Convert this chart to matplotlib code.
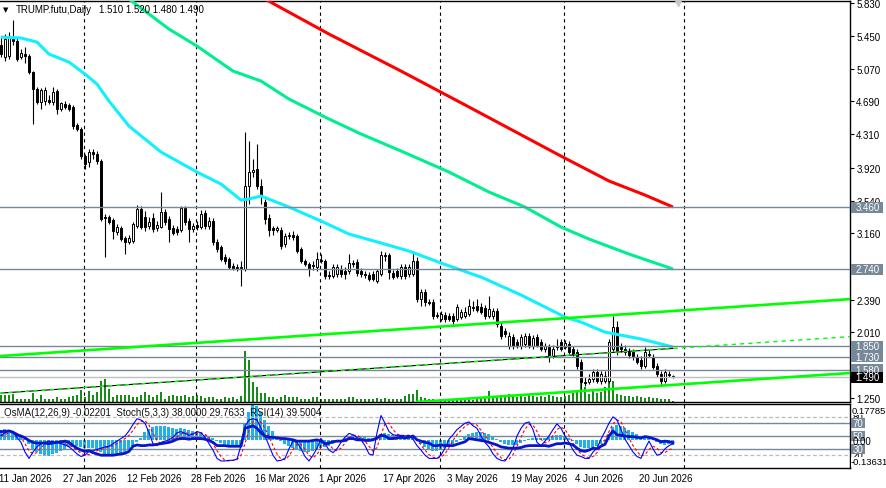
import datetime as dt
import matplotlib
matplotlib.use("Agg")
import matplotlib.pyplot as plt
import matplotlib.transforms as mtransforms
from matplotlib.patches import Rectangle

plt.rcParams['font.family'] = ['Liberation Sans', 'DejaVu Sans']

# ---------------- data ----------------
symbol = "TRUMP.futu,Daily"
last_ohlc = "1.510 1.520 1.480 1.490"
first_date = "2026-01-11"

opens = [5.343, 5.203, 5.215, 5.435, 5.389, 5.203, 5.238, 5.215, 5.030, 4.832,
         4.682, 4.693, 4.705, 4.682, 4.809, 4.600, 4.658, 4.647, 4.624, 4.415,
         4.369, 4.055, 3.986, 4.102, 4.079, 3.998, 3.348, 3.348, 3.313, 3.174,
         3.220, 3.105, 3.058, 3.070, 3.244, 3.441, 3.348, 3.244, 3.337, 3.220,
         3.232, 3.406, 3.325, 3.220, 3.209, 3.197, 3.453, 3.302, 3.209, 3.255,
         3.232, 3.394, 3.244, 3.302, 3.058, 3.000, 2.884, 2.861, 2.780, 2.768,
         2.757, 2.745, 3.707, 3.870, 3.905, 3.707, 3.522, 3.337, 3.220, 3.197,
         3.197, 3.035, 3.128, 3.139, 3.128, 2.977, 2.838, 2.803, 2.780, 2.768,
         2.849, 2.838, 2.676, 2.664, 2.687, 2.745, 2.722, 2.722, 2.815, 2.826,
         2.722, 2.687, 2.676, 2.687, 2.606, 2.687, 2.907, 2.907, 2.699, 2.722,
         2.664, 2.768, 2.687, 2.687, 2.838, 2.397, 2.478, 2.362, 2.362, 2.212,
         2.165, 2.212, 2.200, 2.200, 2.165, 2.188, 2.200, 2.223, 2.304, 2.316,
         2.304, 2.293, 2.200, 2.200, 2.258, 2.084, 2.026, 1.852, 1.957, 1.899,
         1.852, 1.876, 1.968, 1.852, 1.957, 1.899, 1.818, 1.841, 1.736, 1.852,
         1.899, 1.841, 1.876, 1.818, 1.783, 1.667, 1.435, 1.435, 1.470, 1.551,
         1.446, 1.446, 1.446, 1.818, 2.072, 1.852, 1.818, 1.783, 1.783, 1.725,
         1.690, 1.620, 1.760, 1.725, 1.620, 1.528, 1.446, 1.528, 1.510]
closes = [5.238, 5.412, 5.435, 5.389, 5.180, 5.250, 5.215, 5.030, 4.832, 4.682,
          4.821, 4.821, 4.682, 4.798, 4.600, 4.670, 4.624, 4.600, 4.403, 4.369,
          4.055, 3.963, 4.102, 4.079, 3.998, 3.325, 3.337, 3.290, 3.186, 3.232,
          3.093, 3.058, 3.105, 3.267, 3.441, 3.232, 3.232, 3.290, 3.209, 3.255,
          3.406, 3.290, 3.209, 3.163, 3.174, 3.453, 3.290, 3.209, 3.244, 3.232,
          3.383, 3.244, 3.302, 3.058, 2.977, 2.861, 2.838, 2.768, 2.757, 2.745,
          2.768, 3.707, 3.870, 3.893, 3.707, 3.592, 3.325, 3.197, 3.197, 3.220,
          3.012, 3.128, 3.139, 3.116, 2.954, 2.838, 2.803, 2.745, 2.791, 2.861,
          2.838, 2.664, 2.664, 2.768, 2.768, 2.687, 2.687, 2.815, 2.803, 2.699,
          2.687, 2.676, 2.629, 2.629, 2.722, 2.907, 2.896, 2.710, 2.652, 2.664,
          2.768, 2.664, 2.768, 2.838, 2.397, 2.478, 2.362, 2.350, 2.200, 2.205,
          2.223, 2.165, 2.165, 2.142, 2.304, 2.246, 2.246, 2.316, 2.296, 2.270,
          2.246, 2.200, 2.281, 2.258, 2.107, 1.968, 1.991, 1.968, 1.852, 1.864,
          1.957, 1.968, 1.864, 1.945, 1.864, 1.818, 1.852, 1.736, 1.818, 1.841,
          1.818, 1.887, 1.783, 1.760, 1.620, 1.435, 1.425, 1.470, 1.551, 1.446,
          1.528, 1.505, 1.899, 2.072, 1.783, 1.818, 1.783, 1.748, 1.725, 1.667,
          1.620, 1.783, 1.748, 1.609, 1.528, 1.446, 1.551, 1.520, 1.490]
highs = [5.435, 5.470, 5.493, 5.632, 5.435, 5.296, 5.319, 5.238, 5.041, 4.856,
         4.844, 4.856, 4.763, 4.856, 4.832, 4.682, 4.693, 4.670, 4.647, 4.438,
         4.392, 4.079, 4.137, 4.137, 4.114, 4.021, 3.383, 3.371, 3.337, 3.267,
         3.244, 3.128, 3.139, 3.290, 3.487, 3.476, 3.418, 3.348, 3.394, 3.302,
         3.638, 3.441, 3.360, 3.255, 3.244, 3.476, 3.476, 3.337, 3.279, 3.302,
         3.429, 3.429, 3.348, 3.337, 3.093, 3.023, 2.919, 2.884, 2.815, 2.803,
         2.838, 4.334, 4.230, 4.021, 4.195, 3.789, 3.557, 3.383, 3.244, 3.244,
         3.232, 3.163, 3.174, 3.186, 3.151, 3.000, 2.861, 2.826, 2.838, 2.942,
         2.919, 2.861, 2.722, 2.803, 2.803, 2.791, 2.768, 2.919, 2.849, 2.861,
         2.757, 2.722, 2.710, 2.722, 2.745, 2.954, 2.942, 2.930, 2.734, 2.757,
         2.803, 2.803, 2.803, 2.942, 2.884, 2.513, 2.513, 2.397, 2.397, 2.246,
         2.258, 2.246, 2.235, 2.235, 2.339, 2.281, 2.304, 2.397, 2.374, 2.397,
         2.351, 2.328, 2.432, 2.293, 2.293, 2.130, 2.061, 2.014, 1.991, 1.934,
         1.991, 2.003, 2.003, 1.980, 1.991, 1.934, 1.887, 1.876, 1.864, 1.934,
         1.934, 1.922, 1.910, 1.852, 1.818, 1.702, 1.493, 1.528, 1.586, 1.586,
         1.563, 1.563, 1.934, 2.200, 2.142, 1.887, 1.864, 1.829, 1.818, 1.760,
         1.736, 1.841, 1.818, 1.760, 1.655, 1.563, 1.586, 1.563, 1.520]
lows = [5.203, 5.157, 5.180, 5.343, 5.157, 5.180, 5.134, 5.006, 4.427, 4.658,
        4.600, 4.647, 4.658, 4.647, 4.543, 4.577, 4.600, 4.577, 4.369, 4.345,
        4.021, 3.905, 3.928, 4.021, 3.963, 3.302, 2.884, 3.267, 3.093, 3.139,
        3.070, 2.919, 3.035, 3.047, 3.220, 3.209, 3.186, 3.209, 3.174, 3.186,
        3.220, 3.255, 3.058, 3.139, 3.139, 3.174, 3.255, 3.058, 3.174, 3.197,
        3.209, 3.209, 3.209, 3.023, 2.942, 2.838, 2.803, 2.745, 2.734, 2.722,
        2.548, 2.722, 3.499, 3.812, 3.673, 3.499, 3.267, 3.128, 3.139, 3.174,
        2.977, 3.000, 3.093, 3.082, 2.930, 2.815, 2.780, 2.664, 2.734, 2.722,
        2.815, 2.629, 2.629, 2.641, 2.652, 2.652, 2.629, 2.687, 2.768, 2.664,
        2.652, 2.641, 2.606, 2.606, 2.583, 2.664, 2.838, 2.629, 2.629, 2.641,
        2.629, 2.629, 2.652, 2.664, 2.362, 2.316, 2.316, 2.328, 2.165, 2.177,
        2.142, 2.130, 2.142, 2.107, 2.142, 2.165, 2.177, 2.200, 2.258, 2.246,
        2.223, 2.165, 2.177, 2.165, 2.072, 1.934, 1.957, 1.818, 1.818, 1.829,
        1.818, 1.841, 1.829, 1.818, 1.841, 1.794, 1.783, 1.667, 1.713, 1.806,
        1.794, 1.818, 1.760, 1.736, 1.586, 1.330, 1.388, 1.412, 1.435, 1.423,
        1.412, 1.423, 1.423, 1.794, 1.748, 1.783, 1.748, 1.713, 1.690, 1.644,
        1.586, 1.597, 1.725, 1.586, 1.493, 1.388, 1.423, 1.493, 1.480]
volumes = [7, 7, 7, 8, 3, 3, 3, 3, 9, 3,
           7, 3, 3, 3, 5, 3, 3, 5, 6, 7,
           12, 5, 11, 7, 10, 21, 23, 13, 5, 7,
           7, 7, 7, 5, 5, 7, 10, 7, 5, 7,
           10, 3, 6, 7, 6, 6, 7, 5, 6, 7,
           6, 4, 5, 5, 3, 3, 5, 4, 5, 3,
           6, 51, 42, 20, 15, 9, 9, 5, 5, 3,
           5, 7, 5, 5, 5, 3, 3, 3, 5, 5,
           3, 3, 3, 3, 3, 3, 3, 5, 5, 3,
           3, 3, 3, 3, 4, 3, 4, 3, 3, 3,
           3, 6, 8, 8, 12, 5, 4, 3, 3, 2,
           2, 2, 2, 2, 3, 2, 2, 3, 2, 3,
           3, 4, 11, 5, 5, 7, 6, 8, 6, 5,
           6, 5, 7, 6, 5, 6, 5, 7, 6, 5,
           5, 6, 7, 9, 12, 20, 15, 8, 12, 9,
           10, 15, 27, 21, 8, 7, 6, 6, 5, 6,
           5, 4, 5, 4, 4, 3, 3, 3, 1]

# moving averages read at sample bars
ma_fast_bars = [0, 5, 9, 12, 17, 21, 24, 27, 32, 40, 49, 55, 60, 62, 65, 72, 80, 87,
                95, 102, 110, 120, 130, 135, 141, 145, 151, 160, 168]
ma_fast_vals = [5.435, 5.424, 5.377, 5.238, 5.145, 5.006, 4.890, 4.693, 4.403, 4.102,
                3.870, 3.731, 3.545, 3.557, 3.592, 3.464, 3.302, 3.151, 3.047, 2.954,
                2.815, 2.652, 2.444, 2.328, 2.188, 2.130, 2.014, 1.934, 1.841]
ma_mid_bars = [26, 32, 37, 42, 49, 58, 65, 72, 82, 90, 100, 112, 122, 131, 140, 147, 157, 168]
ma_mid_vals = [6.050, 5.876, 5.702, 5.528, 5.331, 5.041, 4.925, 4.716, 4.485, 4.311,
               4.114, 3.870, 3.638, 3.464, 3.232, 3.093, 2.919, 2.745]
ma_slow_bars = [60, 66, 82, 100, 117, 132, 140, 152, 161, 168]
ma_slow_vals = [6.040, 5.876, 5.470, 5.041, 4.624, 4.253, 4.055, 3.766, 3.603, 3.464]

# horizontal levels and trend lines (bar, price anchors)
levels = [3.460, 2.740, 1.850, 1.730, 1.580]
bid_level = 1.490
channel_top = [(0, 1.737), (168, 2.259)]
channel_bottom = [(110, 1.222), (168, 1.402)]
mid_line = [(0, 1.307), (168, 1.825)]

price_ticks = [5.830, 5.450, 5.070, 4.690, 4.310, 3.920, 3.540, 3.160,
               2.390, 2.010, 1.250]
xtick_labels = ['11 Jan 2026', '27 Jan 2026', '12 Feb 2026', '28 Feb 2026',
                '16 Mar 2026', '1 Apr 2026', '17 Apr 2026', '3 May 2026',
                '19 May 2026', '4 Jun 2026', '20 Jun 2026']
separator_dates = ['2026-02-01', '2026-03-01', '2026-04-01', '2026-05-01',
                   '2026-06-01', '2026-07-01']

osma = [0.050, 0.055, 0.050, 0.045, 0.035, 0.020, 0.005, -0.020, -0.045, -0.060,
        -0.070, -0.075, -0.075, -0.070, -0.065, -0.055, -0.045, -0.035, -0.030, -0.030,
        -0.035, -0.040, -0.040, -0.040, -0.045, -0.060, -0.070, -0.070, -0.070, -0.068,
        -0.065, -0.060, -0.050, -0.030, -0.010, 0.010, 0.040, 0.055, 0.065, 0.070,
        0.072, 0.070, 0.065, 0.060, 0.055, 0.060, 0.055, 0.050, 0.045, 0.042,
        0.035, 0.028, 0.020, 0.010, -0.005, -0.015, -0.020, -0.025, -0.030, -0.030,
        -0.030, 0.080, 0.140, 0.175, 0.170, 0.140, 0.100, 0.070, 0.045, 0.020,
        -0.005, -0.020, -0.030, -0.040, -0.050, -0.055, -0.060, -0.060, -0.055, -0.050,
        -0.040, -0.035, -0.030, -0.020, -0.010, 0.000, 0.010, 0.020, 0.025, 0.022,
        0.020, 0.015, 0.010, 0.012, 0.020, 0.030, 0.035, 0.030, 0.028, 0.025,
        0.025, 0.022, 0.020, 0.020, 0.000, -0.020, -0.035, -0.045, -0.055, -0.055,
        -0.050, -0.040, -0.030, -0.020, -0.010, 0.005, 0.015, 0.030, 0.035, 0.040,
        0.040, 0.035, 0.030, 0.020, 0.005, -0.010, -0.020, -0.025, -0.025, -0.022,
        -0.015, -0.005, 0.005, 0.010, 0.012, 0.010, 0.012, 0.015, 0.020, 0.025,
        0.025, 0.020, 0.010, -0.005, -0.020, -0.035, -0.040, -0.040, -0.035, -0.030,
        -0.020, -0.005, 0.030, 0.065, 0.075, 0.070, 0.060, 0.050, 0.040, 0.030,
        0.020, 0.020, 0.010, 0.000, -0.010, -0.020, -0.022, -0.020, -0.02201]
stoch_main = [51, 55, 58, 55, 48, 40, 25, 15, 25, 33,
              38, 40, 42, 41, 40, 38, 36, 33, 28, 22,
              18, 20, 26, 27, 29, 31, 33, 34, 38, 42,
              46, 50, 58, 68, 77, 75, 70, 55, 38, 35,
              40, 42, 44, 48, 55, 57, 54, 51, 53, 57,
              55, 48, 38, 28, 15, 11, 11, 12, 12, 14,
              35, 65, 75, 77, 75, 62, 50, 35, 20, 11,
              12, 15, 30, 42, 40, 30, 18, 11, 20, 31,
              46, 38, 28, 24, 30, 40, 48, 54, 52, 48,
              44, 35, 22, 20, 55, 82, 70, 57, 52, 51,
              51, 50, 51, 45, 35, 28, 20, 15, 15, 15,
              20, 31, 45, 52, 60, 65, 70, 72, 66, 62,
              50, 40, 33, 22, 15, 12, 11, 20, 31, 50,
              62, 70, 72, 60, 40, 35, 42, 50, 60, 69,
              62, 50, 40, 28, 20, 18, 15, 15, 25, 31,
              45, 57, 70, 80, 75, 60, 45, 35, 25, 18,
              15, 30, 42, 30, 20, 22, 30, 35, 38.0]
stoch_signal = [50, 52, 55, 56, 54, 48, 38, 27, 22, 24,
                32, 37, 40, 41, 41, 40, 38, 36, 32, 28,
                23, 20, 21, 24, 27, 29, 31, 33, 35, 38,
                42, 46, 51, 59, 68, 73, 74, 67, 54, 43,
                38, 39, 42, 45, 49, 53, 55, 54, 53, 54,
                55, 53, 47, 38, 27, 18, 12, 11, 12, 13,
                20, 38, 58, 72, 76, 71, 62, 49, 35, 22,
                14, 13, 19, 29, 37, 37, 29, 20, 16, 21,
                32, 38, 37, 30, 27, 31, 39, 47, 51, 51,
                48, 42, 34, 26, 32, 52, 69, 70, 60, 53,
                51, 51, 51, 49, 43, 36, 28, 21, 17, 15,
                17, 22, 32, 43, 52, 59, 65, 69, 69, 67,
                59, 51, 41, 32, 23, 16, 13, 14, 21, 34,
                48, 61, 68, 67, 57, 45, 39, 42, 51, 60,
                64, 60, 51, 39, 29, 22, 18, 16, 18, 24,
                34, 44, 57, 69, 75, 72, 60, 47, 35, 26,
                19, 21, 29, 34, 31, 24, 24, 29, 29.7633]
rsi = [57, 57, 58, 56, 52, 50, 47, 43, 40, 39,
       39, 39, 38, 39, 40, 41, 42, 40, 35, 31,
       28, 26, 27, 24, 22, 20, 20, 20, 20, 21,
       22, 23, 26, 34, 36, 35, 35, 36, 36, 37,
       38, 39, 40, 42, 45, 46, 46, 45, 46, 46,
       46, 45, 43, 40, 35, 35, 35, 34, 34, 34,
       34, 62, 64, 66, 62, 55, 50, 48, 48, 47,
       46, 46, 45, 44, 42, 42, 42, 42, 43, 44,
       42, 38, 39, 41, 42, 42, 43, 46, 46, 44,
       44, 43, 43, 44, 47, 51, 50, 46, 46, 47,
       48, 47, 48, 50, 44, 42, 40, 39, 35, 35,
       36, 35, 35, 35, 37, 39, 41, 46, 45, 44,
       43, 42, 40, 38, 36, 33, 32, 31, 31, 31,
       32, 34, 35, 35, 35, 35, 35, 34, 36, 38,
       38, 39, 38, 36, 31, 27, 26, 28, 31, 30,
       34, 37, 50, 58, 52, 51, 50, 49, 49, 48,
       47, 49, 48, 46, 44, 41, 42, 41, 39.5004]
osc_header = "OsMA(12,26,9) -0.02201  Stoch(5,3,3) 38.0000 29.7633  RSI(14) 39.5004"
osma_range = (-0.13631, 0.17785)

# ---------------- layout ----------------
W, H = 886, 489
fig = plt.figure(figsize=(W / 100, H / 100), dpi=100)
fig.patch.set_facecolor('white')


def rect(x0, y0, x1, y1):
    return [x0 / W, 1 - y1 / H, (x1 - x0) / W, (y1 - y0) / H]


MAIN = rect(0, 1.7, 850, 403)
OSC = rect(0, 405, 850, 469)
XLIM = (-0.25, 212.25)
YLIM = (1.2034, 5.857)
FS = 7

start = dt.date.fromisoformat(first_date)
n = len(closes)
bars = list(range(n))


def bar_of(d):
    return (d - start).days


SLATE = '#778899'

# volumes (own scale, drawn beneath)
axv = fig.add_axes(MAIN)
axv.set_xlim(XLIM)
axv.set_ylim(0, 400)
axv.axis('off')
axv.vlines(bars, 0, volumes, color='#008000', lw=1.3)

# main price axes
ax = fig.add_axes(MAIN, facecolor='none')
ax.set_xlim(XLIM)
ax.set_ylim(YLIM)
ax.spines['left'].set_visible(False)
for s in ['top', 'right', 'bottom']:
    ax.spines[s].set_linewidth(1.0)
ax.set_xticks([])
ax.yaxis.tick_right()
ax.set_yticks(price_ticks)
ax.set_yticklabels([f"{v:.3f}" for v in price_ticks])
ax.tick_params(axis='y', length=3, width=0.8, pad=1.5, labelsize=FS, direction='out')

# candles
for i in bars:
    o, h, l, c = opens[i], highs[i], lows[i], closes[i]
    ax.vlines(i, l, h, color='black', lw=0.8, zorder=3)
    lo = min(o, c)
    ht = max(abs(c - o), 0.006)
    ax.add_patch(Rectangle((i - 0.36, lo), 0.72, ht,
                           facecolor='white' if c >= o else 'black',
                           edgecolor='black', lw=0.7, zorder=3.1))

# moving averages
ax.plot(ma_slow_bars, ma_slow_vals, color='#FF0000', lw=2.2, zorder=4, solid_capstyle='butt')
ax.plot(ma_mid_bars, ma_mid_vals, color='#00EE90', lw=2.2, zorder=4, solid_capstyle='butt')
ax.plot(ma_fast_bars, ma_fast_vals, color='#10F0FF', lw=2.2, zorder=4, solid_capstyle='butt')

# horizontal levels
for lv in levels:
    ax.axhline(lv, color=SLATE, lw=1.0, zorder=5)
ax.axhline(bid_level, color='#C0C0C0', lw=1.0, zorder=5)

# trend lines
ax.axline(channel_top[0], channel_top[1], color='#00FF00', lw=1.9, zorder=5)
ax.axline(channel_bottom[0], channel_bottom[1], color='#00FF00', lw=1.9, zorder=5)
ax.plot([mid_line[0][0], mid_line[1][0]], [mid_line[0][1], mid_line[1][1]],
        color='black', lw=0.8, zorder=5)
ax.axline(mid_line[0], mid_line[1], color='#00FF00', lw=1.0, ls=(0, (3, 3)), zorder=5.1)

# month separators
for sd in separator_dates:
    b = bar_of(dt.date.fromisoformat(sd)) - 0.25
    ax.axvline(b, color='black', lw=0.8, ls=(0, (3, 3)), zorder=2)

# chart shift marker
ax.plot([169.3], [0.995], marker='v', ms=5, color='#C8C8C8', mec='#C8C8C8',
        transform=mtransforms.blended_transform_factory(ax.transData, ax.transAxes),
        clip_on=False, zorder=6)

# price boxes on right
bt = mtransforms.blended_transform_factory(ax.transAxes, ax.transData)
px_per_price = (403 - 1.7) / (YLIM[1] - YLIM[0])
box_h = 11 / px_per_price
for lv in levels + [bid_level]:
    fc = 'black' if lv == bid_level else SLATE
    ax.add_patch(Rectangle((851 / 850, lv - box_h / 2), 32 / 850, box_h, transform=bt,
                           facecolor=fc, edgecolor='none', clip_on=False, zorder=10))
    ax.text(867.5 / 850, lv, f"{lv:.3f}", transform=bt, color='white', fontsize=FS,
            ha='center', va='center', zorder=11, clip_on=False)

# title
fig.text(16 / W, 1 - 10 / H, symbol, fontsize=FS, va='center', ha='left', color='black')
fig.text(99 / W, 1 - 10 / H, last_ohlc, fontsize=FS, va='center', ha='left', color='black')
fig.text(5.5 / W, 1 - 10 / H, "\u25BC", fontsize=5, va='center', ha='center',
         color='black', family='DejaVu Sans')

# ---------------- oscillator panel ----------------
axm = fig.add_axes(OSC)
axm.set_xlim(XLIM)
axm.set_ylim(osma_range)
axm.axis('off')
axm.bar(bars, osma, width=0.75, color='#1CB2EE', zorder=1)

axo = fig.add_axes(OSC, facecolor='none')
axo.set_xlim(XLIM)
axo.set_ylim(0, 100)
axo.spines['left'].set_visible(False)
for s in ['top', 'right', 'bottom']:
    axo.spines[s].set_linewidth(1.0)
axo.set_yticks([])
axo.set_xticks([])
for lv in (80, 20):
    axo.axhline(lv, color='#BBBBBB', lw=0.9, ls=(0, (3, 2)), zorder=2)
for lv in (70, 50, 30):
    axo.axhline(lv, color=SLATE, lw=1.0, zorder=2)
for sd in separator_dates:
    b = bar_of(dt.date.fromisoformat(sd)) - 0.25
    axo.axvline(b, color='black', lw=0.8, ls=(0, (3, 3)), zorder=2)
axo.plot(bars, stoch_signal, color='#FF0000', lw=0.8, ls=(0, (2.5, 2)), zorder=3)
axo.plot(bars, stoch_main, color='#0000FF', lw=0.8, zorder=3.5)
axo.plot(bars, rsi, color='#0A14C8', lw=2.0, zorder=4)

fig.text(4 / W, 1 - 413.5 / H, osc_header, fontsize=FS, va='center', ha='left', color='#111111')

# osc right-side labels
ot = mtransforms.blended_transform_factory(axo.transAxes, axo.transData)
axo.text(853 / 850, 80, "80", transform=ot, fontsize=FS, va='center', ha='left', clip_on=False)
axo.text(853 / 850, 20, "20", transform=ot, fontsize=FS, va='center', ha='left', clip_on=False)
fig.text(852 / W, 1 - 411 / H, f"{osma_range[1]:.5f}", fontsize=6.8, va='center', ha='left',
         bbox=dict(boxstyle='square,pad=0.05', fc='white', ec='none'))
fig.text(851 / W, 1 - 463 / H, f"{osma_range[0]:.5f}", fontsize=6.8, va='center', ha='left',
         bbox=dict(boxstyle='square,pad=0.05', fc='white', ec='none'))
fig.text(853 / W, 1 - 441.7 / H, "0.00", fontsize=FS, va='center', ha='left')
o_px = 64 / 100
for lv in (70, 50, 30):
    axo.add_patch(Rectangle((851 / 850, lv - 5 / o_px), 14 / 850, 10 / o_px, transform=ot,
                            facecolor=SLATE, edgecolor='none', clip_on=False, zorder=10))
    axo.text(858 / 850, lv, f"{lv}", transform=ot, color='white', fontsize=FS,
             ha='center', va='center', zorder=11, clip_on=False)

# date labels
xt = mtransforms.blended_transform_factory(axo.transData, axo.transAxes)
for lab in xtick_labels:
    b = bar_of(dt.datetime.strptime(lab, '%d %b %Y').date())
    axo.text(b - 0.45, -10 / 64, lab, transform=xt, fontsize=FS, ha='left', va='center',
             clip_on=False)

fig.savefig('out.png', dpi=100, facecolor='white')
